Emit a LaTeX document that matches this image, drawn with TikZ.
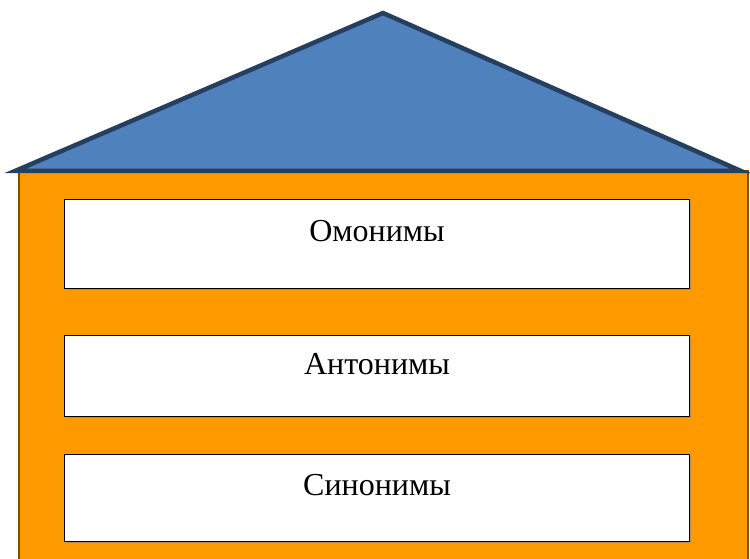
\documentclass[tikz,border=0pt]{standalone}
\usepackage{fontspec}
\setmainfont{Liberation Serif}
\usetikzlibrary{shadows}
\definecolor{roofFill}{HTML}{4F81BD}
\definecolor{roofLine}{HTML}{243F60}
\definecolor{wallFill}{HTML}{FF9900}
\definecolor{wallLine}{HTML}{7F4C00}
\tikzset{
    roof/.style={
        fill=roofFill,
        draw=roofLine,
        line width=4.5pt,
        line join=miter
    },
    wall/.style={
        fill=wallFill,
        draw=wallLine,
        line width=1.5pt
    },
    floorbox/.style={
        draw=black,
        fill=white,
        rectangle,
        line width=1pt,
        anchor=north west,
        minimum width=625pt,
        inner ysep=0pt,
        drop shadow={shadow xshift=1pt, shadow yshift=-1pt, opacity=0.5},
        font=\fontsize{32}{38}\selectfont
    }
}

\begin{document}
\begin{tikzpicture}[x=1pt, y=-1pt]
    \useasboundingbox (0,0) rectangle (750,559);
    \clip (0,0) rectangle (750,559);

    % Walls
    \draw[wall] (19,171) rectangle (748,575);

    % Roof
    \draw[roof] (15,171) -- (383,13) -- (741,171) -- cycle;

    % Floors
    \node[floorbox, text height=42pt, text depth=47pt] (homonyms) at (64,199) {Омонимы};
    \node[floorbox, text height=39pt, text depth=42pt] (antonyms) at (64,335) {Антонимы};
    \node[floorbox, text height=41pt, text depth=46pt] (synonyms) at (64,454) {Синонимы};
\end{tikzpicture}
\end{document}
